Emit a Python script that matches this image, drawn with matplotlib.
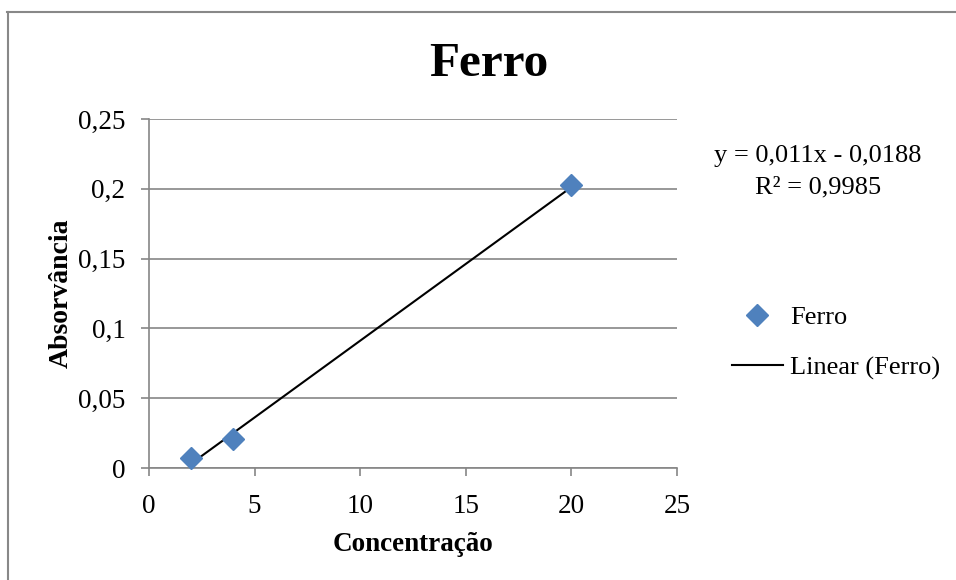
import numpy as np
import matplotlib
matplotlib.use("Agg")
import matplotlib.pyplot as plt
from matplotlib.lines import Line2D

# Data
concentracao = [2, 4, 20]
absorvancia = [0.0075, 0.021, 0.203]
x_ticks = [0, 5, 10, 15, 20, 25]
y_ticks = [0, 0.05, 0.1, 0.15, 0.2, 0.25]
y_tick_labels = ["0", "0,05", "0,1", "0,15", "0,2", "0,25"]
x_tick_labels = ["0", "5", "10", "15", "20", "25"]
slope, intercept = 0.011, -0.0188
equation_text = "y = 0,011x - 0,0188\nR² = 0,9985"

plt.rcParams['font.family'] = ['Liberation Serif', 'DejaVu Serif']

W, H = 956, 580
fig = plt.figure(figsize=(W / 100, H / 100), dpi=100)
fig.patch.set_facecolor('white')

ax = fig.add_axes([149 / W, 1 - 468 / H, (677 - 149) / W, (468 - 119) / H])

grid_col = '#868686'
ax.set_xlim(0, 25)
ax.set_ylim(0, 0.25)
ax.set_xticks(x_ticks)
ax.set_xticklabels(x_tick_labels)
ax.set_yticks(y_ticks)
ax.set_yticklabels(y_tick_labels)
ax.yaxis.grid(True, color=grid_col, linewidth=1.2)
ax.set_axisbelow(True)
for s in ['top', 'right']:
    ax.spines[s].set_visible(False)
for s in ['left', 'bottom']:
    ax.spines[s].set_color(grid_col)
    ax.spines[s].set_linewidth(1.2)
ax.tick_params(axis='both', direction='out', length=6, width=1.2, color=grid_col,
               labelsize=19.5)
ax.tick_params(axis='x', pad=13)
ax.tick_params(axis='y', pad=11)

# Trendline
xs = np.array([min(concentracao), max(concentracao)])
ax.plot(xs, slope * xs + intercept, color='black', linewidth=1.5, zorder=3)

# Points
ax.plot(concentracao, absorvancia, linestyle='none', marker='D', markersize=11,
        color='#4F81BD', markeredgecolor='#4F81BD', zorder=4, clip_on=False)

ax.set_xlabel('Concentração', fontsize=19.5, fontweight='bold', labelpad=9)
ax.set_ylabel('Absorvância', fontsize=20, fontweight='bold', labelpad=3)

fig.text(489 / W, 1 - 64 / H, 'Ferro', fontsize=35.5, fontweight='bold',
         ha='center', va='center')

fig.text(818 / W, 1 - 172 / H, equation_text, fontsize=19, ha='center', va='center',
         linespacing=1.55, multialignment='center')

# Legend
handles = [Line2D([], [], linestyle='none', marker='D', markersize=11, color='#4F81BD'),
           Line2D([], [], color='black', linewidth=1.5)]
fig.legend(handles, ['Ferro', 'Linear (Ferro)'], loc='center left',
           bbox_to_anchor=(732 / W, 1 - 343 / H), frameon=False, fontsize=19,
           handlelength=1.93, handletextpad=0.27, labelspacing=1.02, borderpad=0,
           borderaxespad=0)

# Chart border (left and top visible)
fig.add_artist(Line2D([7.5 / W, 7.5 / W], [0, 1 - 11.5 / H], color='#888888',
                      linewidth=1.5, transform=fig.transFigure))
fig.add_artist(Line2D([7 / W, 1], [1 - 11.5 / H, 1 - 11.5 / H], color='#888888',
                      linewidth=1.5, transform=fig.transFigure))

fig.savefig('out.png', dpi=100, facecolor='white')
